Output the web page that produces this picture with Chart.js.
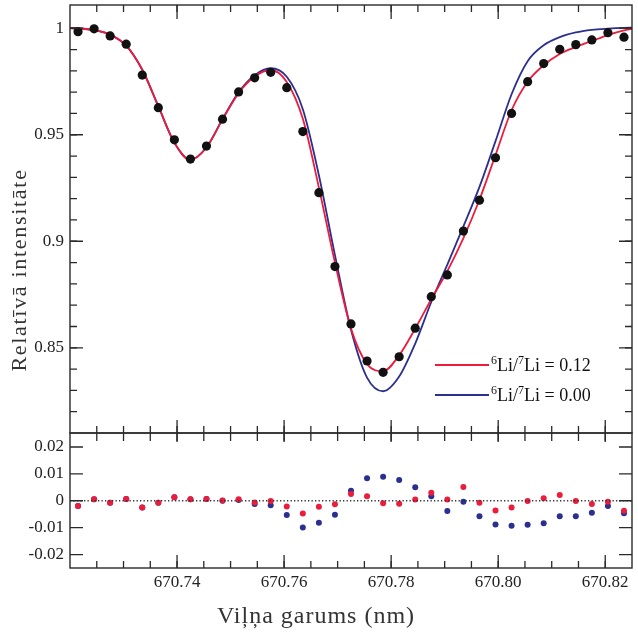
<!DOCTYPE html>
<html>
<head>
  <title>Li 670.8 nm</title>
  <script src="https://cdn.jsdelivr.net/npm/chart.js"></script>
  <style>
    body { margin: 0; background: #fff; }
    #wrap { position: relative; width: 638px; height: 632px; }
    canvas { position: absolute; left: 0; }
  </style>
</head>
<body>
  <div id="wrap">
    <canvas id="spec" width="638" height="440" style="top:0"></canvas>
    <canvas id="resid" width="638" height="207" style="top:425px"></canvas>
  </div>

  <script>
    // observed spectrum (nm, relative intensity)
    const wavelength = [670.7215, 670.7245, 670.7275, 670.7305, 670.7335, 670.7365, 670.7395,
      670.7425, 670.7455, 670.7485, 670.7515, 670.7545, 670.7575, 670.7605, 670.7635, 670.7665,
      670.7695, 670.7725, 670.7755, 670.7785, 670.7815, 670.7845, 670.7875, 670.7905, 670.7935,
      670.7965, 670.7995, 670.8025, 670.8055, 670.8085, 670.8115, 670.8145, 670.8175, 670.8205,
      670.8235];
    const observed = [0.9984, 0.9997, 0.9964, 0.9925, 0.9780, 0.9627, 0.9476, 0.9386, 0.9447,
      0.9573, 0.9701, 0.9767, 0.9793, 0.9721, 0.9515, 0.9228, 0.8881, 0.8612, 0.8438, 0.8385,
      0.8458, 0.8592, 0.8740, 0.8842, 0.9048, 0.9193, 0.9392, 0.9600, 0.9749, 0.9834, 0.9901,
      0.9923, 0.9945, 0.9979, 0.9958];

    // synthetic fits
    const fitWavelength = [670.7200, ...wavelength, 670.8250];
    const fit012 = [1.0000, 0.9999, 0.9991, 0.9970, 0.9918, 0.9805, 0.9634, 0.9463, 0.9382,
      0.9440, 0.9572, 0.9695, 0.9773, 0.9804, 0.9748, 0.9575, 0.9252, 0.8900, 0.8590, 0.8424,
      0.8390, 0.8465, 0.8590, 0.8728, 0.8860, 0.9015, 0.9195, 0.9405, 0.9615, 0.9749, 0.9826,
      0.9879, 0.9912, 0.9940, 0.9968, 0.9990, 0.9997];
    const fit000 = [1.0000, 0.9999, 0.9991, 0.9970, 0.9918, 0.9805, 0.9634, 0.9463, 0.9382,
      0.9441, 0.9574, 0.9699, 0.9779, 0.9812, 0.9772, 0.9620, 0.9310, 0.8935, 0.8585, 0.8360,
      0.8296, 0.8365, 0.8520, 0.8715, 0.8890, 0.9070, 0.9255, 0.9470, 0.9690, 0.9845, 0.9920,
      0.9958, 0.9980, 0.9992, 0.9998, 1.0002, 1.0003];

    // residuals (observed - fit)
    const resid012 = [-0.0019, 0.0006, -0.0007, 0.0007, -0.0025, -0.0007, 0.0013, 0.0006, 0.0007,
      0.0001, 0.0006, -0.0006, -0.0001, -0.0021, -0.0047, -0.0022, -0.0013, 0.0025, 0.0017,
      -0.0009, -0.0011, 0.0005, 0.0030, 0.0005, 0.0051, -0.0007, -0.0036, -0.0025, -0.0001,
      0.0009, 0.0021, -0.0001, -0.0012, -0.0004, -0.0037];
    const resid000 = [-0.0019, 0.0006, -0.0007, 0.0007, -0.0025, -0.0007, 0.0013, 0.0006, 0.0007,
      0.0000, 0.0003, -0.0012, -0.0017, -0.0053, -0.0099, -0.0082, -0.0052, 0.0037, 0.0084,
      0.0089, 0.0077, 0.0050, 0.0017, -0.0038, -0.0004, -0.0058, -0.0088, -0.0093, -0.0089,
      -0.0084, -0.0058, -0.0058, -0.0045, -0.0019, -0.0046];

    const ratios = ['0.12', '0.00'];
    const xTicks = [670.74, 670.76, 670.78, 670.80, 670.82];
    const xTickLabels = ['670.74', '670.76', '670.78', '670.80', '670.82'];
    const yTicks = [0.85, 0.9, 0.95, 1];
    const yTickLabels = ['0.85', '0.9', '0.95', '1'];
    const rTicks = [-0.02, -0.01, 0, 0.01, 0.02];
    const rTickLabels = ['-0.02', '-0.01', '0', '0.01', '0.02'];

    const RED = '#ec1c3c', BLUE = '#2b2f8e';
    const SERIF = '"Liberation Serif", "Times New Roman", serif';
    const XMIN = 670.72, XMAX = 670.825;

    const xMinor = [];
    for (let k = 1; k <= 20; k++) xMinor.push(+(XMIN + k * 0.005).toFixed(3));
    const yMinor = [];
    for (let k = 82; k <= 100; k++) yMinor.push(k / 100);

    const pts = (xs, ys) => ys.map((y, i) => ({ x: xs[i], y }));
    const tickFont = { family: SERIF, size: 17 };

    function marks(chart, id, values, side, len) {
      const ctx = chart.ctx, a = chart.chartArea, s = chart.scales[id];
      ctx.beginPath();
      values.forEach(v => {
        const p = s.getPixelForValue(v);
        if (side === 'top') { ctx.moveTo(p, a.top); ctx.lineTo(p, a.top + len); }
        else if (side === 'bottom') { ctx.moveTo(p, a.bottom); ctx.lineTo(p, a.bottom - len); }
        else if (side === 'left') { ctx.moveTo(a.left, p); ctx.lineTo(a.left + len, p); }
        else { ctx.moveTo(a.right, p); ctx.lineTo(a.right - len, p); }
      });
      ctx.stroke();
    }

    function frame(chart) {
      const ctx = chart.ctx, a = chart.chartArea;
      ctx.strokeStyle = '#2a2a2a';
      ctx.lineWidth = 1.4;
      ctx.strokeRect(a.left, a.top, a.right - a.left, a.bottom - a.top);
      ctx.lineWidth = 1.3;
    }

    function drawKey(ctx, x, y, color, ratio) {
      ctx.strokeStyle = color;
      ctx.lineWidth = 1.8;
      ctx.beginPath(); ctx.moveTo(x, y); ctx.lineTo(x + 54, y); ctx.stroke();
      let tx = x + 56;
      const base = y + 6;
      const parts = [['6', 12, -7], ['Li/', 18, 0], ['7', 12, -7], ['Li = ' + ratio, 18, 0]];
      ctx.fillStyle = '#111';
      ctx.textAlign = 'left';
      ctx.textBaseline = 'alphabetic';
      parts.forEach(([t, size, dy]) => {
        ctx.font = size + 'px ' + SERIF;
        ctx.fillText(t, tx, base + dy);
        tx += ctx.measureText(t).width;
      });
    }

    const specDecor = {
      id: 'specDecor',
      afterDraw(chart) {
        const ctx = chart.ctx;
        ctx.save();
        frame(chart);
        marks(chart, 'x', xMinor, 'top', 7);
        marks(chart, 'x', xTicks, 'top', 14);
        marks(chart, 'x', xMinor, 'bottom', 7);
        marks(chart, 'x', xTicks, 'bottom', 13);
        marks(chart, 'y', yMinor, 'left', 7);
        marks(chart, 'y', yTicks, 'left', 13);
        marks(chart, 'y', yMinor, 'right', 7);
        marks(chart, 'y', yTicks, 'right', 13);

        drawKey(ctx, 435, 365, RED, ratios[0]);
        drawKey(ctx, 435, 395, BLUE, ratios[1]);

        ctx.translate(26, 270);
        ctx.rotate(-Math.PI / 2);
        ctx.font = '22px ' + SERIF;
        ctx.letterSpacing = '1.7px';
        ctx.fillStyle = '#333';
        ctx.textAlign = 'center';
        ctx.textBaseline = 'alphabetic';
        ctx.fillText('Relatīvā intensitāte', 0, 0);
        ctx.restore();
      }
    };

    const residDecor = {
      id: 'residDecor',
      afterDraw(chart) {
        const ctx = chart.ctx, a = chart.chartArea;
        ctx.save();
        const z = chart.scales.y.getPixelForValue(0);
        ctx.strokeStyle = '#333';
        ctx.lineWidth = 1.3;
        ctx.setLineDash([1.3, 2.2]);
        ctx.beginPath(); ctx.moveTo(a.left, z); ctx.lineTo(a.right, z); ctx.stroke();
        ctx.setLineDash([]);

        frame(chart);
        marks(chart, 'x', xMinor, 'top', 8);
        marks(chart, 'x', xTicks, 'top', 9);
        marks(chart, 'x', xMinor, 'bottom', 7);
        marks(chart, 'x', xTicks, 'bottom', 13);
        marks(chart, 'y', rTicks, 'left', 13);
        marks(chart, 'y', rTicks, 'right', 13);

        ctx.font = '24px ' + SERIF;
        ctx.letterSpacing = '1px';
        ctx.fillStyle = '#333';
        ctx.textAlign = 'center';
        ctx.textBaseline = 'alphabetic';
        ctx.fillText('Viļņa garums (nm)', 316, 198);
        ctx.restore();
      }
    };

    const leftAxis = (min, max, ticks, labels) => ({
      type: 'linear', position: 'left', min, max,
      grid: { display: false, drawTicks: false },
      border: { display: false },
      afterBuildTicks: s => { s.ticks = ticks.map(v => ({ value: v })); },
      afterFit: s => { s.width = 70; s.paddingTop = 0; s.paddingBottom = 0; },
      ticks: { padding: 6, color: '#222', font: tickFont, callback: (v, i) => labels[i] }
    });

    new Chart(document.getElementById('spec'), {
      type: 'scatter',
      data: {
        datasets: [{
          label: 'observed',
          data: pts(wavelength, observed),
          pointRadius: 4.6,
          pointBackgroundColor: '#111',
          pointBorderWidth: 0
        }, {
          label: '6Li/7Li = 0.12',
          data: pts(fitWavelength, fit012),
          showLine: true,
          borderColor: RED,
          borderWidth: 1.8,
          pointRadius: 0,
          cubicInterpolationMode: 'monotone'
        }, {
          label: '6Li/7Li = 0.00',
          data: pts(fitWavelength, fit000),
          showLine: true,
          borderColor: BLUE,
          borderWidth: 1.8,
          pointRadius: 0,
          cubicInterpolationMode: 'monotone'
        }]
      },
      options: {
        responsive: false,
        animation: false,
        layout: { padding: { left: 0, right: 6, top: 5, bottom: 7 } },
        plugins: { legend: { display: false }, tooltip: { enabled: false } },
        scales: {
          x: { type: 'linear', min: XMIN, max: XMAX, display: false },
          y: leftAxis(0.81, 1.0109, yTicks, yTickLabels)
        }
      },
      plugins: [specDecor]
    });

    new Chart(document.getElementById('resid'), {
      type: 'scatter',
      data: {
        datasets: [{
          label: 'resid 0.12',
          data: pts(wavelength, resid012),
          pointRadius: 3,
          pointBackgroundColor: RED,
          pointBorderWidth: 0
        }, {
          label: 'resid 0.00',
          data: pts(wavelength, resid000),
          pointRadius: 3,
          pointBackgroundColor: BLUE,
          pointBorderWidth: 0
        }]
      },
      options: {
        responsive: false,
        animation: false,
        layout: { padding: { left: 0, right: 6, top: 8, bottom: 0 } },
        plugins: { legend: { display: false }, tooltip: { enabled: false } },
        scales: {
          x: {
            type: 'linear', min: XMIN, max: XMAX,
            grid: { display: false, drawTicks: false },
            border: { display: false },
            afterBuildTicks: s => { s.ticks = xTicks.map(v => ({ value: v })); },
            afterFit: s => { s.height = 64; s.paddingLeft = 0; s.paddingRight = 0; },
            ticks: { padding: 4, color: '#222', font: tickFont, maxRotation: 0, autoSkip: false,
              callback: (v, i) => xTickLabels[i] }
          },
          y: leftAxis(-0.0250, 0.0252, rTicks, rTickLabels)
        }
      },
      plugins: [residDecor]
    });
  </script>
</body>
</html>
